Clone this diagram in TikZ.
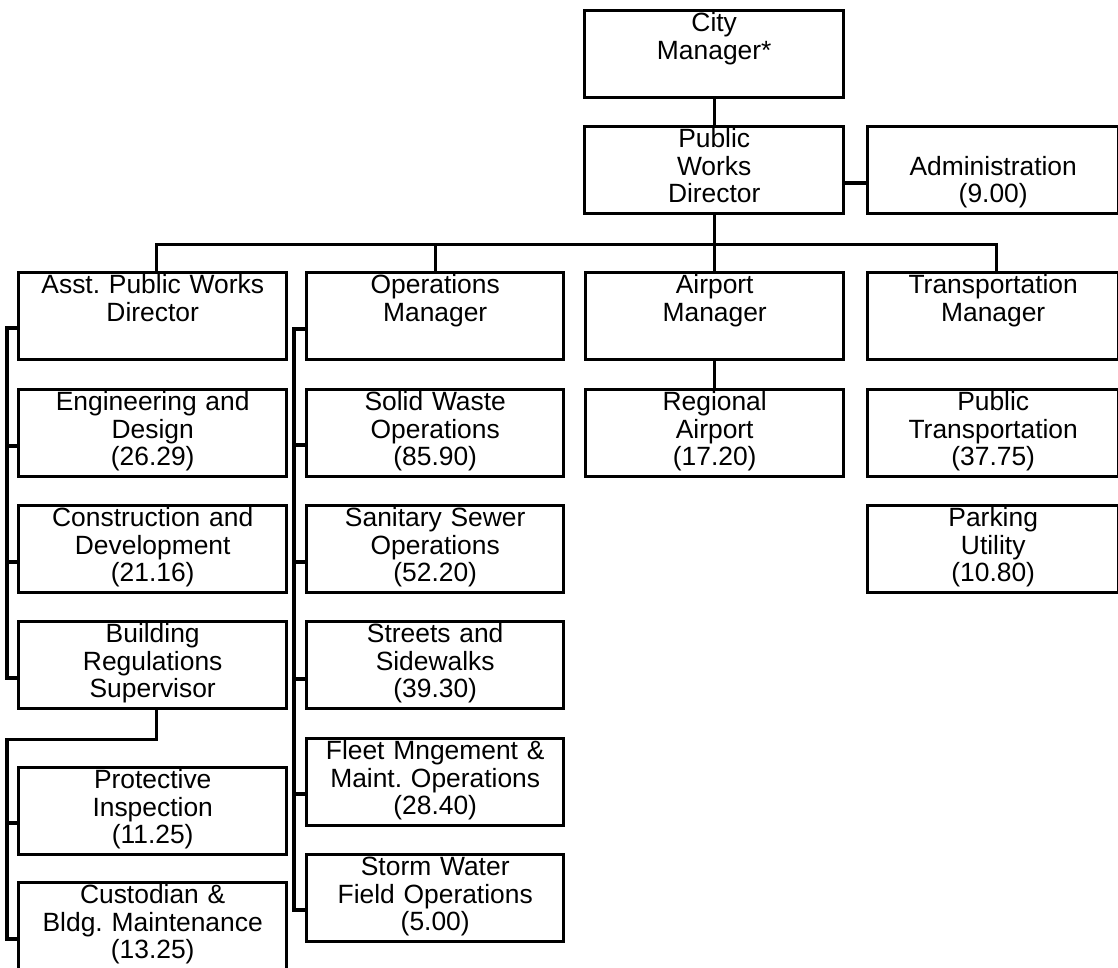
\documentclass[tikz,border=0pt]{standalone}
\usepackage{fontspec}
\setmainfont{Liberation Sans}
\newcommand\orgfont{\fontsize{26.4}{27.5}\selectfont\frenchspacing}
\begin{document}
\begin{tikzpicture}[x=1pt,y=-1pt,
  box/.style={draw, line width=3.4pt, inner sep=0pt, anchor=north west,
    text width=#1, align=center, text height=21pt, text depth=66pt, font=\orgfont},
  conn/.style={draw, line width=3.4pt}]
\useasboundingbox (0,0) rectangle (1118,968);
% top
\node[box=259pt] (city) at (583,9) {City\\Manager*};
\node[box=259pt] (pwd) at (583,125) {Public\\Works\\Director};
\node[box=251pt] (adm) at (866,125) {\mbox{}\\Administration\\(9.00)};
% managers
\node[box=268pt] (asst) at (17,271) {Asst. Public Works\\Director};
\node[box=257pt] (ops) at (305,271) {Operations\\Manager};
\node[box=258pt] (apm) at (584,271) {Airport\\Manager};
\node[box=251pt] (tpm) at (866,271) {Transportation\\Manager};
% column 1
\node[box=268pt] (eng) at (17,388) {Engineering and\\Design\\(26.29)};
\node[box=268pt] (con) at (17,504) {Construction and\\Development\\(21.16)};
\node[box=268pt] (brs) at (17,620) {Building\\Regulations\\Supervisor};
\node[box=268pt] (pro) at (17,766) {Protective\\Inspection\\(11.25)};
\node[box=268pt] (cus) at (17,881) {Custodian \&\\Bldg. Maintenance\\(13.25)};
% column 2
\node[box=257pt] (sw) at (305,388) {Solid Waste\\Operations\\(85.90)};
\node[box=257pt] (ss) at (305,504) {Sanitary Sewer\\Operations\\(52.20)};
\node[box=257pt] (st) at (305,620) {Streets and\\Sidewalks\\(39.30)};
\node[box=257pt] (fl) at (305,737) {Fleet Mngement \&\\Maint. Operations\\(28.40)};
\node[box=257pt] (sto) at (305,853) {Storm Water\\Field Operations\\(5.00)};
% column 3
\node[box=258pt] (reg) at (584,388) {Regional\\Airport\\(17.20)};
% column 4
\node[box=251pt] (pt) at (866,388) {Public\\Transportation\\(37.75)};
\node[box=251pt] (pk) at (866,504) {Parking\\Utility\\(10.80)};
% connectors top
\draw[conn] (city.south) -- (pwd.north);
\draw[conn] ([yshift=-58pt]pwd.north east) -- ([yshift=-58pt]adm.north west);
\draw[conn] (pwd.south) -- ++(0,-29pt) coordinate (bar);
\draw[conn] ([xshift=4pt]asst.north) |- (bar) -| ([xshift=3.5pt]tpm.north);
\draw[conn] (ops.north) -- (ops.north |- bar);
\draw[conn] (apm.north) -- (apm.north |- bar);
\draw[conn] (apm.south) -- (reg.north);
% column 1 connectors
\draw[conn] ([yshift=-57pt]asst.north west) -- ++(-10pt,0) |- ([yshift=-58pt]brs.north west);
\draw[conn] ([yshift=-58pt]eng.north west) -- ++(-10pt,0);
\draw[conn] ([yshift=-58pt]con.north west) -- ++(-10pt,0);
\draw[conn] ([xshift=4pt]brs.south) -- ++(0,-29pt) -| ([xshift=-10pt,yshift=-58pt]cus.north west) -- ([yshift=-58pt]cus.north west);
\draw[conn] ([yshift=-57pt]pro.north west) -- ++(-10pt,0);
% column 2 connectors
\draw[conn] ([yshift=-58pt]ops.north west) -- ++(-11pt,0) |- ([yshift=-57pt]sto.north west);
\draw[conn] ([yshift=-57pt]sw.north west) -- ++(-11pt,0);
\draw[conn] ([yshift=-58pt]ss.north west) -- ++(-11pt,0);
\draw[conn] ([yshift=-59pt]st.north west) -- ++(-11pt,0);
\draw[conn] ([yshift=-57pt]fl.north west) -- ++(-11pt,0);
\end{tikzpicture}
\end{document}
